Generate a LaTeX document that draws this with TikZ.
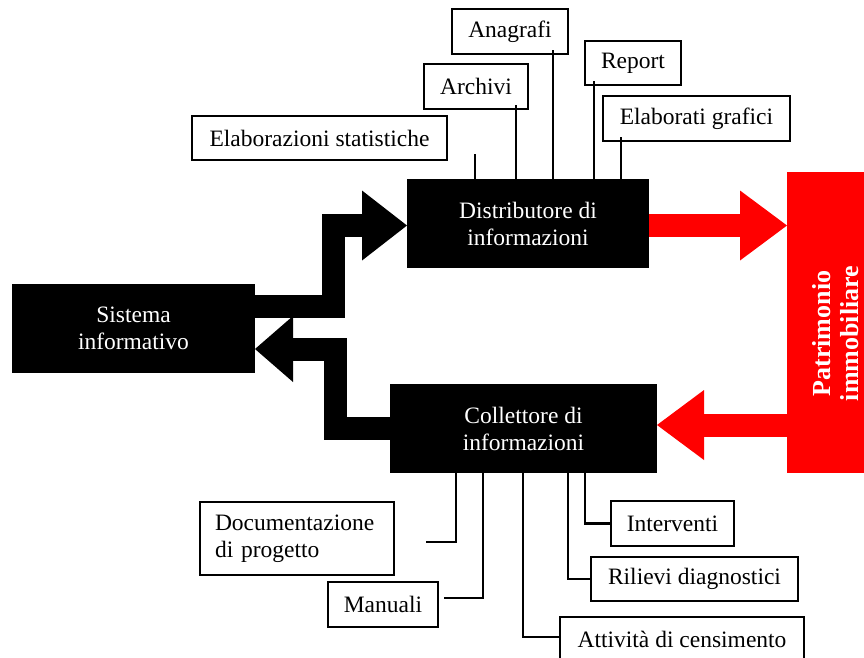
\documentclass[tikz,border=0pt]{standalone}
\usepackage{fontspec}
\setmainfont{Liberation Serif}
\usetikzlibrary{calc}
\begin{document}
\begin{tikzpicture}[x=1pt,y=-1pt,
  every node/.style={font=\fontsize{23.5}{27}\selectfont, inner sep=0pt, outer sep=0pt},
  leaf/.style={draw=black, line width=1.8pt, fill=white, align=center},
  core/.style={fill=black, text=white, align=center, minimum width=#1, minimum height=89pt},
  wire/.style={line width=2.8pt, line join=miter, line cap=butt},
  fatblack/.style={line width=23pt, black, line join=miter, line cap=butt},
  fatred/.style={line width=23pt, red, line join=miter, line cap=butt},
  headblack/.style={fill=black},
  headred/.style={fill=red}
]
\useasboundingbox (0,0) rectangle (864,657);

% central blocks
\node[core=243pt] (sis)  at (133.5,328.5) {Sistema\\informativo};
\node[core=242pt] (dist) at (528,223.5)   {Distributore di\\informazioni};
\node[core=267pt] (coll) at (523.5,428.5) {Collettore di\\informazioni};

% the estate block on the right
\node[fill=red, minimum width=98pt, minimum height=301pt] (pat) at (836,322.5) {};
\node[rotate=90, text=white, align=center,
      font=\bfseries\fontsize{26}{28}\selectfont] (patlabel)
      at ([yshift=-11pt]pat.center) {Patrimonio\\immobiliare};

% outputs of the distributor
\node[leaf, minimum width=116pt, minimum height=45pt] (anag) at (510,31.5)  {Anagrafi};
\node[leaf, minimum width=104pt, minimum height=45pt] (arch) at (476,86.5)  {Archivi};
\node[leaf, minimum width=255pt, minimum height=44pt] (stat) at (319.5,138) {Elaborazioni statistiche};
\node[leaf, minimum width=96pt,  minimum height=44pt] (rep)  at (633,63)    {Report};
\node[leaf, minimum width=187pt, minimum height=45pt] (graf) at (696.5,118.5) {Elaborati grafici};

% inputs of the collector
\node[leaf, align=left, text width=164pt, inner xsep=15pt, minimum height=73pt] (doc) at (297,538.5)
      {Documentazione\\di progetto};
\node[leaf, minimum width=110pt, minimum height=45pt] (man) at (383,604.5) {Manuali};
\node[leaf, minimum width=123pt, minimum height=45pt] (int) at (672.5,523.5) {Interventi};
\node[leaf, minimum width=207pt, minimum height=44pt] (ril) at (694.5,579)   {Rilievi diagnostici};
\node[leaf, minimum width=244pt, minimum height=45pt] (att) at (682,639.5)   {Attività di censimento};

% information flow: system -> distributor
\draw[fatblack] ([yshift=22.5pt]sis.east) -- ++(78,0) |- ([xshift=-44pt,yshift=-2pt]dist.west);
\fill[headblack] ([yshift=-2pt]dist.west) -- ([xshift=-45pt,yshift=33pt]dist.west)
                 -- ([xshift=-45pt,yshift=-37pt]dist.west) -- cycle;

% information flow: collector -> system
\draw[fatblack] (coll.west) -- ++(-55,0) |- ([xshift=37pt,yshift=-20.5pt]sis.east);
\fill[headblack] ([yshift=-20.5pt]sis.east) -- ([xshift=38pt,yshift=12.5pt]sis.east)
                 -- ([xshift=38pt,yshift=-53.5pt]sis.east) -- cycle;

% distributor -> estate
\draw[fatred] ([yshift=-2pt]dist.east) -- ([xshift=-46pt,yshift=-2pt]pat.west |- dist.east);
\fill[headred] ([yshift=-2pt]pat.west |- dist.east) -- ([xshift=-47pt,yshift=33pt]pat.west |- dist.east)
               -- ([xshift=-47pt,yshift=-37pt]pat.west |- dist.east) -- cycle;

% estate -> collector
\draw[fatred] ([yshift=3.5pt]pat.west |- coll.east) -- ([xshift=46pt,yshift=3.5pt]coll.east);
\fill[headred] ([yshift=3.5pt]coll.east) -- ([xshift=47pt,yshift=38.5pt]coll.east)
               -- ([xshift=47pt,yshift=-31.5pt]coll.east) -- cycle;

% distributor links
\draw[wire] ([xshift=68pt]dist.north west) -- ++(0,-25);
\draw[wire] ([xshift=-12pt,yshift=4pt]arch.south east) -- ([xshift=-12pt]arch.south east |- dist.north);
\draw[wire] ([xshift=-15pt,yshift=4pt]anag.south east) -- ([xshift=-15pt]anag.south east |- dist.north);
\draw[wire] ([xshift=9pt,yshift=4pt]rep.south west) -- ([xshift=9pt]rep.south west |- dist.north);
\draw[wire] ([xshift=18pt,yshift=4pt]graf.south west) -- ([xshift=18pt]graf.south west |- dist.north);

% collector links
\draw[wire] ([xshift=66pt]coll.south west)  |- ([xshift=32pt,yshift=-3.5pt]doc.east);
\draw[wire] ([xshift=93pt]coll.south west)  |- ([xshift=6pt,yshift=6.5pt]man.east);
\draw[wire] ([xshift=133pt]coll.south west) |- ([yshift=2.5pt]att.west);
\draw[wire] ([xshift=178pt]coll.south west) |- (ril.west);
\draw[wire] ([xshift=195pt]coll.south west) |- (int.west);
\end{tikzpicture}
\end{document}
